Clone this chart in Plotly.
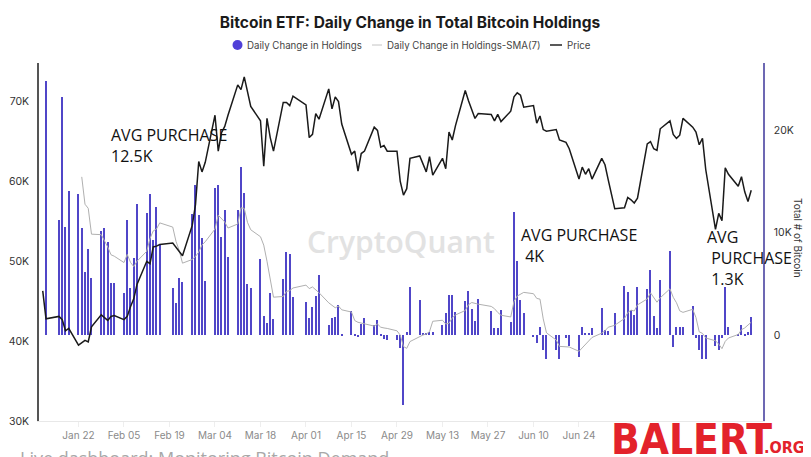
import plotly.graph_objects as go

# ---------------- data ----------------
trade_dates = [
    "2024-01-11", "2024-01-12", "2024-01-16", "2024-01-17", "2024-01-18", "2024-01-19",
    "2024-01-22", "2024-01-23", "2024-01-24", "2024-01-25", "2024-01-26",
    "2024-01-29", "2024-01-30", "2024-01-31", "2024-02-01", "2024-02-02",
    "2024-02-05", "2024-02-06", "2024-02-07", "2024-02-08", "2024-02-09",
    "2024-02-12", "2024-02-13", "2024-02-14", "2024-02-15", "2024-02-16",
    "2024-02-20", "2024-02-21", "2024-02-22", "2024-02-23",
    "2024-02-26", "2024-02-27", "2024-02-28", "2024-02-29", "2024-03-01",
    "2024-03-04", "2024-03-05", "2024-03-06", "2024-03-07", "2024-03-08",
    "2024-03-11", "2024-03-12", "2024-03-13", "2024-03-14", "2024-03-15",
    "2024-03-18", "2024-03-19", "2024-03-20", "2024-03-21", "2024-03-22",
    "2024-03-25", "2024-03-26", "2024-03-27", "2024-03-28",
    "2024-04-01", "2024-04-02", "2024-04-03", "2024-04-04", "2024-04-05",
    "2024-04-08", "2024-04-09", "2024-04-10", "2024-04-11", "2024-04-12",
    "2024-04-15", "2024-04-16", "2024-04-17", "2024-04-18", "2024-04-19",
    "2024-04-22", "2024-04-23", "2024-04-24", "2024-04-25", "2024-04-26",
    "2024-04-29", "2024-04-30", "2024-05-01", "2024-05-02", "2024-05-03",
    "2024-05-06", "2024-05-07", "2024-05-08", "2024-05-09", "2024-05-10",
    "2024-05-13", "2024-05-14", "2024-05-15", "2024-05-16", "2024-05-17",
    "2024-05-20", "2024-05-21", "2024-05-22", "2024-05-23", "2024-05-24",
    "2024-05-28", "2024-05-29", "2024-05-30", "2024-05-31",
    "2024-06-03", "2024-06-04", "2024-06-05", "2024-06-06", "2024-06-07",
    "2024-06-10", "2024-06-11", "2024-06-12", "2024-06-13", "2024-06-14",
    "2024-06-17", "2024-06-18", "2024-06-20", "2024-06-21",
    "2024-06-24", "2024-06-25", "2024-06-26", "2024-06-27", "2024-06-28",
    "2024-07-01", "2024-07-02", "2024-07-03", "2024-07-05",
    "2024-07-08", "2024-07-09", "2024-07-10", "2024-07-11", "2024-07-12",
    "2024-07-15", "2024-07-16", "2024-07-17", "2024-07-18", "2024-07-19",
    "2024-07-22", "2024-07-23", "2024-07-24", "2024-07-25", "2024-07-26",
    "2024-07-29", "2024-07-30", "2024-07-31", "2024-08-01", "2024-08-02",
    "2024-08-05", "2024-08-06", "2024-08-07", "2024-08-08", "2024-08-09",
    "2024-08-12", "2024-08-13", "2024-08-14", "2024-08-15", "2024-08-16",
]

# BTC price (thousand USD), one value per trading date
price_k = [
    46.3, 42.8, 43.1, 42.7, 41.3, 41.6,
    39.5, 39.8, 40.1, 39.9, 41.8,
    43.3, 42.9, 42.6, 43.1, 43.2,
    42.7, 43.1, 44.3, 45.3, 47.1,
    50.0, 49.7, 51.8, 51.9, 52.1,
    52.3, 51.8, 51.3, 50.7,
    54.5, 57.1, 62.5, 61.2, 62.4,
    68.3, 63.8, 66.1, 66.9, 68.3,
    72.1, 71.5, 73.1, 71.4, 69.4,
    67.6, 61.9, 67.9, 65.5, 63.8,
    69.9, 69.9, 69.5, 70.7,
    69.6, 65.5, 65.9, 68.5, 67.8,
    71.6, 69.1, 70.6, 70.0, 67.2,
    63.4, 63.8, 61.3, 63.5, 63.8,
    66.8, 66.4, 64.3, 64.5, 63.8,
    63.8, 60.0, 58.3, 59.1, 62.9,
    63.2, 62.3, 61.2, 63.1, 60.8,
    62.9, 61.6, 66.2, 65.2, 67.0,
    71.4, 70.1, 69.1, 67.9, 68.5,
    68.4, 67.6, 68.4, 67.5,
    68.8, 70.6, 71.1, 70.8, 69.3,
    69.5, 67.3, 68.2, 66.5, 66.3,
    66.5, 65.2, 64.9, 64.1,
    60.3, 61.8, 60.9, 61.6, 60.3,
    62.9, 62.1, 60.2, 56.6,
    56.7, 58.0, 57.7, 57.3, 57.9,
    64.7, 65.0, 64.1, 63.9, 66.6,
    67.6, 65.9, 65.4, 65.8, 67.9,
    66.8, 66.2, 64.6, 65.4, 61.5,
    54.0, 56.0, 55.1, 61.7, 60.9,
    59.4, 60.6, 58.7, 57.5, 58.9,
]

# Daily change in ETF holdings (thousand BTC), from 2024-01-12 onward
holding_change_k = [
    24.8, 11.2, 23.2, 10.5, 14.1,
    13.8, 10.4, 6.1, 8.4, 5.6,
    10.1, 10.4, 9.1, 5.1, 5.1,
    4.1, 11.2, 4.6, 7.5, 12.8,
    11.9, 13.8, 9.3, 12.5, 8.8,
    4.6, 3.1, 5.6, 5.2,
    11.8, 14.6, 11.7, 9.5, 5.3,
    14.3, 14.6, 9.6, 12.2, 7.6,
    12.2, 16.4, 13.9, 5.0, 4.6,
    7.4, 1.9, 1.2, 4.1, 1.6,
    5.5, 8.1, 7.9, 3.7,
    3.2, 1.7, 2.7, 3.8, 5.9,
    1.0, 1.7, 1.8, 2.9, 0.1,
    2.3, 0.1, -0.2, 1.1, 1.7,
    1.0, 1.5, 0.1, -0.4, -0.5,
    -0.5, -1.3, -6.8, 0.3, 4.7,
    3.4, 0.2, 0.2, 0.3, 0.3,
    1.0, 2.1, 3.9, 3.9, 2.2,
    3.3, 4.3, 2.5, 1.4, 3.5,
    2.3, 0.7, 0.7, 2.4,
    1.3, 12.0, 7.2, 3.4, 2.1,
    -0.2, -0.8, 0.8, -1.5, -2.3,
    -1.5, -2.3, -0.3, -1.1,
    -2.1, 0.8, 0.2, 0.2, 0.65,
    2.6, 0.5, 0.4, 2.1,
    4.8, 4.2, 2.4, 2.0, 4.65,
    4.5, 6.3, 1.9, 0.65, 5.4,
    8.2, -1.2, 0.8, 0.8, 0.8,
    2.8, -0.3, -1.5, -2.3, -2.3,
    -1.1, -1.5, -0.3, 4.65, 0.8,
    0.1, 1.0, 0.1, 0.3, 1.8,
]

# 7-day SMA of the holdings change (thousand BTC), from 2024-01-23 onward
sma7_k = [
    15.43, 12.76, 12.36, 9.84, 9.79, 9.26, 8.59, 7.83, 7.69, 7.07,
    7.87, 7.09, 6.67, 7.20, 8.17, 9.41, 10.16, 10.34, 10.94, 10.53,
    9.14, 8.24, 7.01, 7.37, 7.67, 8.09, 8.79, 9.10, 10.34, 11.69,
    11.37, 11.03, 10.44, 10.83, 12.41, 12.36, 10.99, 10.27, 9.59, 8.77,
    7.20, 5.44, 3.69, 3.76, 4.26, 4.33, 4.59, 4.87, 4.53, 4.69,
    4.44, 4.13, 3.14, 2.86, 2.66, 2.83, 2.46, 2.24, 1.41, 1.24,
    1.16, 1.14, 0.87, 1.07, 0.76, 0.69, 0.64, 0.41, -0.01, -1.13,
    -1.30, -0.64, -0.10, 0.00, 0.10, 0.33, 1.34, 1.44, 1.07, 1.14,
    1.67, 1.96, 2.39, 2.96, 3.17, 3.07, 3.01, 2.79, 2.57, 2.20,
    1.93, 1.76, 3.27, 3.80, 3.96, 4.16, 4.03, 3.57, 3.50, 1.57,
    0.21, -0.49, -1.11, -1.13, -1.17, -1.59, -1.26, -0.90, -0.66, -0.24,
    0.18, 0.41, 0.76, 0.95, 1.61, 2.18, 2.43, 2.34, 2.94, 3.52,
    4.12, 3.71, 3.20, 3.63, 4.51, 3.68, 3.15, 2.36, 2.21, 2.51,
    1.70, 0.31, 0.16, -0.29, -0.56, -0.89, -1.33, -0.62, -0.29, 0.05,
    0.52, 0.69, 0.95, 1.25,
]

x_tick_dates = ["2024-01-22", "2024-02-05", "2024-02-19", "2024-03-04", "2024-03-18",
                "2024-04-01", "2024-04-15", "2024-04-29", "2024-05-13", "2024-05-27",
                "2024-06-10", "2024-06-24"]
price_ticks = [30, 40, 50, 60, 70]
price_tick_text = ["30K", "40K", "50K", "60K", "70K"]
btc_ticks = [0, 10, 20]
btc_tick_text = ["0", "10K", "20K"]

bar_dates = trade_dates[1:]
sma_dates = trade_dates[7:]

# ---------------- figure ----------------
# page has an 8px body margin, so the figure is drawn 8px in from the top-left
OFF = 8
W, H = 811 - OFF, 457 - OFF
# plot area in page pixels
PL, PR, PT, PB = 39, 763, 63, 421
L, R, T, B = PL - OFF, PR - OFF, PT - OFF, PB - OFF


def px(xpage):
    return (xpage - PL) / (PR - PL)


def py(ypage):
    return (PB - ypage) / (PB - PT)


BAR_COLOR = "#5046c8"
DAY_MS = 86400000

fig = go.Figure()
fig.add_trace(go.Bar(
    x=bar_dates, y=holding_change_k, name="Daily Change in Holdings",
    marker=dict(color=BAR_COLOR, line=dict(width=0)),
    width=0.62 * DAY_MS, yaxis="y", showlegend=False,
))
fig.add_trace(go.Scatter(
    x=sma_dates, y=sma7_k, name="Daily Change in Holdings-SMA(7)",
    mode="lines", line=dict(color="#b0b0b0", width=1), yaxis="y", showlegend=False,
))
fig.add_trace(go.Scatter(
    x=trade_dates, y=price_k, name="Price",
    mode="lines", line=dict(color="#1a1a1a", width=1.5), yaxis="y2", showlegend=False,
))

font_ui = "Inter, 'Liberation Sans', Arial, sans-serif"
font_note = "'Open Sans', sans-serif"
font_logo = "'DejaVu Sans Condensed', 'Liberation Sans Narrow', sans-serif"

annotations = [
    # legend texts
    dict(x=px(245), y=py(45), xref="paper", yref="paper", xanchor="left", yanchor="middle",
         text="Daily Change in Holdings", showarrow=False,
         font=dict(family=font_ui, size=9.7, color="#444")),
    dict(x=px(385), y=py(45), xref="paper", yref="paper", xanchor="left", yanchor="middle",
         text="Daily Change in Holdings-SMA(7)", showarrow=False,
         font=dict(family=font_ui, size=9.7, color="#444")),
    dict(x=px(565), y=py(45), xref="paper", yref="paper", xanchor="left", yanchor="middle",
         text="Price", showarrow=False,
         font=dict(family=font_ui, size=9.7, color="#444")),
    # watermark
    dict(x=px(401), y=py(241), xref="paper", yref="paper", xanchor="center", yanchor="middle",
         text="CryptoQuant", showarrow=False,
         font=dict(family=font_note, size=30, color="#e2e2e2", weight=600)),
    # AVG PURCHASE notes
    dict(x=px(109), y=py(121.5), xref="paper", yref="paper", xanchor="left", yanchor="top",
         text="AVG PURCHASE<br>12.5K", showarrow=False, align="left",
         font=dict(family=font_note, size=16, color="#111")),
    dict(x=px(519), y=py(221.5), xref="paper", yref="paper", xanchor="left", yanchor="top",
         text="AVG PURCHASE<br>\u00a04K", showarrow=False, align="left",
         font=dict(family=font_note, size=16, color="#111")),
    dict(x=px(705), y=py(224), xref="paper", yref="paper", xanchor="left", yanchor="top",
         text="AVG<br>\u00a0PURCHASE<br>\u00a01.3K", showarrow=False, align="left",
         font=dict(family=font_note, size=16, color="#111")),
    # right axis title
    dict(x=px(798), y=py(238), xref="paper", yref="paper", xanchor="center", yanchor="middle",
         text="Total # of Bitcoin", textangle=90, showarrow=False,
         font=dict(family=font_ui, size=10, color="#333")),
    # footer text
    dict(x=px(18), y=py(444), xref="paper", yref="paper", xanchor="left", yanchor="top",
         text="Live dashboard: Monitoring Bitcoin Demand", showarrow=False,
         font=dict(family=font_note, size=18, color="#a8a8a8")),
    # logo
    dict(x=px(610), y=py(414), xref="paper", yref="paper", xanchor="left", yanchor="top",
         text="BALERT", showarrow=False, borderpad=0,
         font=dict(family=font_logo, size=42, color="#e3222b", weight=700)),
    dict(x=px(763), y=py(436.5), xref="paper", yref="paper", xanchor="left", yanchor="top",
         text=".ORG", showarrow=False, borderpad=0,
         font=dict(family=font_logo, size=16, color="#e3222b", weight=700)),
]

shapes = [
    dict(type="circle", xref="paper", yref="paper",
         x0=px(232.5), x1=px(242.5), y0=py(50), y1=py(40),
         fillcolor="#5040d8", line=dict(width=0)),
    dict(type="line", xref="paper", yref="paper",
         x0=px(372), x1=px(382), y0=py(45), y1=py(45),
         line=dict(color="#c4c4c4", width=1)),
    dict(type="line", xref="paper", yref="paper",
         x0=px(550), x1=px(562), y0=py(45), y1=py(45),
         line=dict(color="#222", width=1.5)),
]

fig.update_layout(
    width=W, height=H,
    margin=dict(l=L, r=W - R, t=T, b=H - B, autoexpand=False),
    paper_bgcolor="white", plot_bgcolor="white",
    showlegend=False,
    bargap=0,
    title=dict(text="Bitcoin ETF: Daily Change in Total Bitcoin Holdings",
               x=(410 - OFF) / W, xanchor="center", xref="container",
               y=1 - (22.5 - OFF) / H, yanchor="middle", yref="container",
               font=dict(family=font_ui, size=15.5, color="#1b1b1b", weight=700)),
    xaxis=dict(
        type="date",
        range=["2024-01-09 20:24", "2024-08-19 14:53"],
        tickvals=x_tick_dates, tickformat="%b %d",
        showgrid=False, zeroline=False,
        showline=True, linecolor="#e8e8e8", linewidth=1,
        ticks="outside", ticklen=5, tickcolor="#eeeeee",
        tickfont=dict(family=font_ui, size=10, color="#8a8a8a"),
    ),
    yaxis=dict(
        side="right", range=[-8.39, 26.54],
        tickvals=btc_ticks, ticktext=btc_tick_text,
        showgrid=False, zeroline=False,
        showline=True, linecolor="#6d68b3", linewidth=1.5,
        ticks="", ticklabelstandoff=7,
        tickfont=dict(family=font_ui, size=10.5, color="#333"),
    ),
    yaxis2=dict(
        overlaying="y", side="left", range=[30, 74.84],
        tickvals=price_ticks, ticktext=price_tick_text,
        showgrid=False, zeroline=False,
        showline=True, linecolor="#555", linewidth=1.5,
        ticks="", ticklabelstandoff=6,
        tickfont=dict(family=font_ui, size=10.5, color="#333"),
    ),
    annotations=annotations,
    shapes=shapes,
)

fig.write_html("out.html")
